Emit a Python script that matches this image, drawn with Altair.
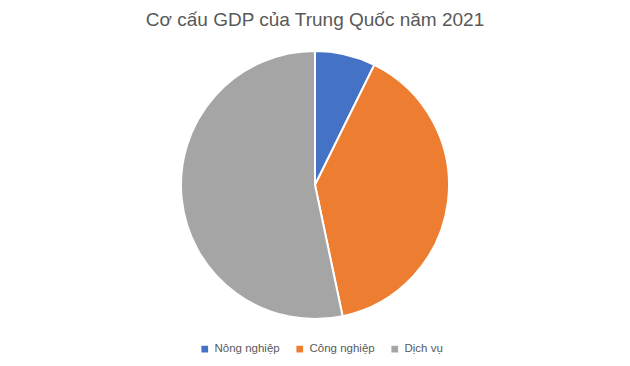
import altair as alt
import pandas as pd

categories = ["Nông nghiệp", "Công nghiệp", "Dịch vụ"]
values = [7.3, 39.4, 53.3]
colors = ["#4472C4", "#ED7D31", "#A5A5A5"]

df = pd.DataFrame({"cat": categories, "val": values, "ord": list(range(len(categories)))})

chart = alt.Chart(df).mark_arc(outerRadius=134, stroke="white", strokeWidth=2).encode(
    theta=alt.Theta("val:Q", stack=True),
    order=alt.Order("ord:Q"),
    color=alt.Color("cat:N", sort=categories,
                    scale=alt.Scale(domain=categories, range=colors),
                    legend=alt.Legend(title=None, orient="none", direction="horizontal",
                                      legendX=191, legendY=335, symbolType="square",
                                      symbolSize=45, labelFontSize=11.5, labelColor="#595959",
                                      labelFont="Liberation Sans", columnPadding=14,
                                      labelOffset=4, symbolStrokeWidth=0)),
    x=alt.value(307),
    y=alt.value(177),
).properties(
    width=614, height=350,
    autosize=alt.AutoSizeParams(type="none"),
    padding=0,
    title=alt.TitleParams("Cơ cấu GDP của Trung Quốc năm 2021", fontSize=19,
                          font="Liberation Sans", fontWeight="normal", color="#595959",
                          anchor="middle", offset=-22),
).configure_view(stroke=None)

chart.save("out.html", embed_options={"renderer": "svg", "actions": False})
